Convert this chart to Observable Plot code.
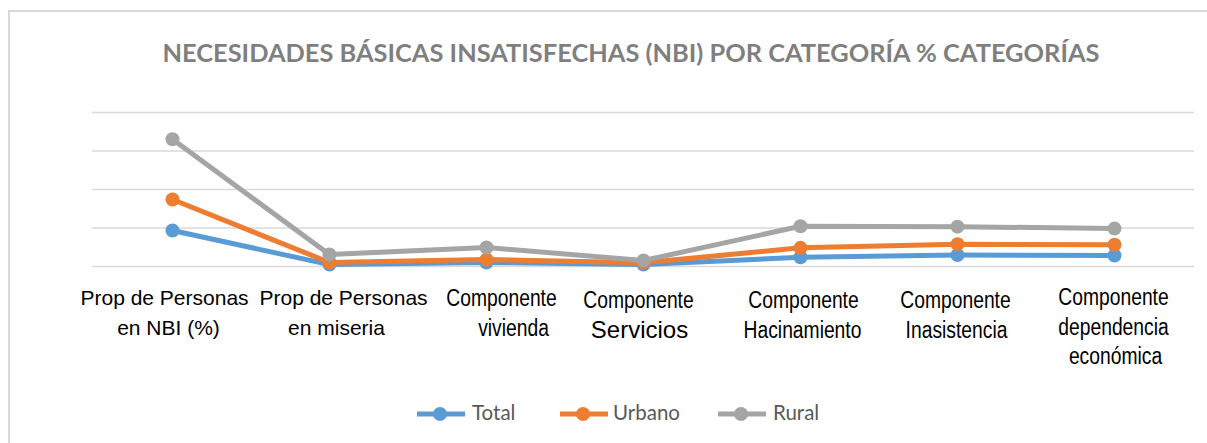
<!DOCTYPE html>
<html><head><meta charset="utf-8">
<script src="https://cdn.jsdelivr.net/npm/d3@7"></script>
<script src="https://cdn.jsdelivr.net/npm/@observablehq/plot@0.6"></script>
<style>
body{margin:0;background:#fff;}
#wrap{position:relative;width:1207px;height:443px;overflow:hidden;background:#fff;}
#frame{position:absolute;left:8px;top:10px;width:1300px;height:500px;border-left:2.5px solid #d9d9d9;border-top:2.5px solid #d9d9d9;}
#title,#chart,#legend{position:absolute;left:0;top:0;}
</style></head>
<body>
<div id="wrap"><div id="frame"></div><svg id="title" width="1207" height="80"></svg><div id="chart"></div><svg id="legend" width="1207" height="443" style="pointer-events:none"></svg></div>
<script>
const titleText = "NECESIDADES BÁSICAS INSATISFECHAS (NBI) POR CATEGORÍA % CATEGORÍAS";
const categories = ["Prop de Personas en NBI (%)","Prop de Personas en miseria","Componente vivienda","Componente Servicios","Componente Hacinamiento","Componente Inasistencia","Componente dependencia económica"];
const tickLabels = [["Prop de Personas","en NBI (%)"],["Prop de Personas","en miseria"],["Componente","vivienda"],["Componente","Servicios"],["Componente","Hacinamiento"],["Componente","Inasistencia"],["Componente","dependencia","económica"]];
const seriesNames = ["Total","Urbano","Rural"];
const total  = [18.7, 1.0, 2.1, 1.0, 4.8, 6.0, 5.7];
const urbano = [34.8, 2.1, 3.6, 2.0, 9.7, 11.6, 11.3];
const rural  = [66.1, 6.2, 9.9, 3.1, 20.9, 20.7, 19.7];
const yTicks = [0, 20, 40, 60, 80];
const colors = ["#5B9BD5", "#ED7D31", "#A5A5A5"];

const seriesValues = [total, urbano, rural];
const rows = seriesNames.flatMap((s, k) => categories.map((c, i) => ({cat: c, serie: s, value: seriesValues[k][i]})));
const labelRows = tickLabels.flatMap((lines, i) => lines.map((t, j) => ({cat: categories[i], idx: i, line: j, text: t})));

// layout tweaks for the category labels (Excel-like placement)
const labelDx = [[-8, -4], [14, 7], [15, 27], [-5, -4], [3, 2], [-2, -1], [-1, -1, 1]];
const labelTop = [32, 32, 32, 34, 34, 34, 31];
const lineStep = 29.5;
const isRegular = d => d.idx <= 1 || d.text === "Servicios";
const labelMarks = labelRows.map(d => Plot.text([d], {
  x: "cat", text: "text", frameAnchor: "bottom", lineAnchor: "middle",
  dx: labelDx[d.idx][d.line], dy: labelTop[d.idx] + d.line * lineStep,
  fontFamily: "Liberation Sans, Arial, sans-serif",
  fontSize: d.text === "Servicios" ? 24 : (d.idx <= 1 ? 21 : 23.5), fill: "#000"
}));

const seriesMarks = seriesNames.flatMap((s) => [
  Plot.line(rows.filter(d => d.serie === s), {x: "cat", y: "value", stroke: "serie", strokeWidth: 5, strokeLinejoin: "round"}),
  Plot.dot(rows.filter(d => d.serie === s), {x: "cat", y: "value", fill: "serie", r: 7})
]);

const chart = Plot.plot({
  width: 1207, height: 380,
  marginLeft: 92, marginRight: 13, marginTop: 112, marginBottom: 114,
  style: {background: "transparent", overflow: "visible"},
  x: {type: "point", domain: categories, padding: 0.5, axis: null},
  y: {domain: [0, 80], axis: null},
  color: {domain: seriesNames, range: colors},
  marks: [
    Plot.ruleY(yTicks, {stroke: "#d9d9d9", strokeWidth: 1.5}),
    ...seriesMarks,
    ...labelMarks
  ]
});
document.getElementById("chart").appendChild(chart);

// condensed look (Arial Narrow-like) for the "Componente ..." labels
const regularTexts = new Set(labelRows.filter(isRegular).map(d => d.text));
d3.select(chart).selectAll("text").each(function() {
  const t = this.textContent;
  if (!regularTexts.has(t)) {
    const w = this.getComputedTextLength();
    this.setAttribute("textLength", (w * 0.82).toFixed(1));
    this.setAttribute("lengthAdjust", "spacingAndGlyphs");
  }
});

// title
const tsvg = d3.select("#title");
tsvg.append("text").attr("x", 631).attr("y", 62).attr("text-anchor", "middle")
  .attr("font-family", "Lato, 'Open Sans', sans-serif").attr("font-weight", "bold").attr("font-size", 25)
  .attr("fill", "#7f7f7f").attr("textLength", 937).attr("lengthAdjust", "spacingAndGlyphs").text(titleText);

// legend
const lsvg = d3.select("#legend");
const legendX = [417, 560, 718];
seriesNames.forEach((s, k) => {
  const x0 = legendX[k];
  lsvg.append("line").attr("x1", x0).attr("x2", x0 + 48).attr("y1", 414).attr("y2", 414)
    .attr("stroke", colors[k]).attr("stroke-width", 5);
  lsvg.append("circle").attr("cx", x0 + 23).attr("cy", 414).attr("r", 7).attr("fill", colors[k]);
  lsvg.append("text").attr("x", x0 + 59 - (k === 1 ? 6 : 4)).attr("y", 420)
    .attr("font-family", "Lato, sans-serif").attr("font-size", 20.5).attr("fill", "#595959").text(s);
});
</script>
</body></html>
